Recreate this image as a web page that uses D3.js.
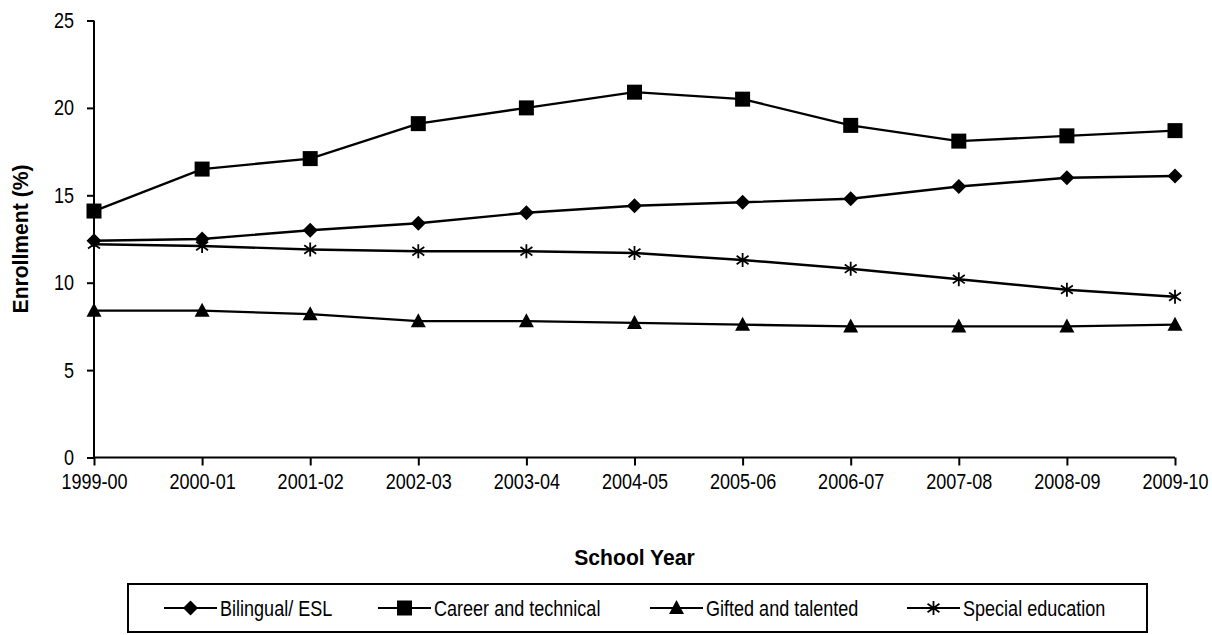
<!DOCTYPE html>
<html>
<head>
<meta charset="utf-8">
<script src="https://cdn.jsdelivr.net/npm/d3@7"></script>
<style>
  html, body { margin: 0; padding: 0; background: #fff; }
  svg { display: block; }
  text { font-family: "Liberation Sans", Arial, sans-serif; fill: #000; }
</style>
</head>
<body>
<svg id="chart" width="1212" height="635"></svg>
<script>
// School years on the horizontal axis
const years = ["1999-00", "2000-01", "2001-02", "2002-03", "2003-04", "2004-05",
               "2005-06", "2006-07", "2007-08", "2008-09", "2009-10"];

// Enrollment share (%) per programme
const bilingualESL      = [12.4, 12.5, 13.0, 13.4, 14.0, 14.4, 14.6, 14.8, 15.5, 16.0, 16.1];
const careerTechnical   = [14.1, 16.5, 17.1, 19.1, 20.0, 20.9, 20.5, 19.0, 18.1, 18.4, 18.7];
const giftedTalented    = [8.4, 8.4, 8.2, 7.8, 7.8, 7.7, 7.6, 7.5, 7.5, 7.5, 7.6];
const specialEducation  = [12.2, 12.1, 11.9, 11.8, 11.8, 11.7, 11.3, 10.8, 10.2, 9.6, 9.2];

const seriesNames = ["Bilingual/ ESL", "Career and technical", "Gifted and talented", "Special education"];
const yTicks = [0, 5, 10, 15, 20, 25];

const series = [
  { name: seriesNames[0], values: bilingualESL, marker: "diamond" },
  { name: seriesNames[1], values: careerTechnical, marker: "square" },
  { name: seriesNames[2], values: giftedTalented, marker: "triangle" },
  { name: seriesNames[3], values: specialEducation, marker: "star" }
];

// Condensed lettering: regular sans squeezed horizontally
const FS = 22;
const SQUEEZE = 0.82;
const TITLE_SQUEEZE = 0.96;

const svg = d3.select("#chart");

const x = d3.scalePoint().domain(years).range([94, 1175]);
const y = d3.scaleLinear().domain([0, 25]).range([457.5, 20.5]);

// Axes
const yAxis = svg.append("g")
  .attr("transform", `translate(${x.range()[0]},0)`)
  .call(d3.axisLeft(y).tickValues(yTicks).tickSize(7).tickPadding(13).tickFormat(d3.format("d")));

const xAxis = svg.append("g")
  .attr("transform", `translate(0,${y(0)})`)
  .call(d3.axisBottom(x).tickSize(8).tickPadding(8));

[yAxis, xAxis].forEach(g => {
  g.attr("font-family", "Liberation Sans, Arial, sans-serif").attr("font-size", FS);
  g.select(".domain").attr("stroke", "#000").attr("stroke-width", 2);
  g.selectAll(".tick line").attr("stroke", "#000").attr("stroke-width", 2);
  g.selectAll(".tick text").attr("font-size", FS).attr("fill", "#000");
});
// squeeze tick labels, keeping their anchor point in place
yAxis.selectAll(".tick text")
  .attr("x", -(7 + 13) / SQUEEZE)
  .attr("transform", `scale(${SQUEEZE},1)`);
xAxis.selectAll(".tick text")
  .attr("transform", `scale(${SQUEEZE},1)`);
// axis lines end exactly at the data range
yAxis.select(".domain").attr("d", `M0,${y(25)}V${y(0)}`);
xAxis.select(".domain").attr("d", `M${x.range()[0]},0H${x.range()[1]}`);

// Axis titles
svg.append("text")
  .attr("transform", `translate(28,${(y(0) + y(25)) / 2}) rotate(-90) scale(${TITLE_SQUEEZE},1)`)
  .attr("text-anchor", "middle")
  .attr("font-size", FS).attr("font-weight", "bold")
  .text("Enrollment (%)");

svg.append("text")
  .attr("transform", `translate(${(x.range()[0] + x.range()[1]) / 2},565) scale(${TITLE_SQUEEZE},1)`)
  .attr("text-anchor", "middle")
  .attr("font-size", FS).attr("font-weight", "bold")
  .text("School Year");

// Marker shapes
function drawMarker(g, type, cx, cy) {
  if (type === "diamond") {
    g.append("path").attr("d", `M${cx},${cy - 7.5}L${cx + 7.5},${cy}L${cx},${cy + 7.5}L${cx - 7.5},${cy}Z`)
      .attr("fill", "#000");
  } else if (type === "square") {
    g.append("rect").attr("x", cx - 7.5).attr("y", cy - 7.5).attr("width", 15).attr("height", 15)
      .attr("fill", "#000");
  } else if (type === "triangle") {
    g.append("path").attr("d", `M${cx},${cy - 8}L${cx + 7.5},${cy + 6}L${cx - 7.5},${cy + 6}Z`)
      .attr("fill", "#000");
  } else if (type === "star") {
    const r = 7;
    const d = r * 0.85;
    g.append("path")
      .attr("d", `M${cx},${cy - r}V${cy + r}M${cx - d},${cy - d * 0.7}L${cx + d},${cy + d * 0.7}M${cx - d},${cy + d * 0.7}L${cx + d},${cy - d * 0.7}`)
      .attr("stroke", "#000").attr("stroke-width", 1.8).attr("fill", "none");
  }
}

const line = d3.line().x((d, i) => x(years[i])).y(d => y(d));

series.forEach(s => {
  const g = svg.append("g");
  g.append("path").datum(s.values)
    .attr("d", line)
    .attr("fill", "none").attr("stroke", "#000").attr("stroke-width", 2.4);
  s.values.forEach((v, i) => drawMarker(g, s.marker, x(years[i]), y(v)));
});

// Legend
const legend = svg.append("g");
legend.append("rect")
  .attr("x", 128).attr("y", 584).attr("width", 1019).attr("height", 48)
  .attr("fill", "#fff").attr("stroke", "#000").attr("stroke-width", 2);

const legendX = [164, 378, 650, 907];
const legendY = 608;
series.forEach((s, i) => {
  const lx = legendX[i];
  legend.append("line").attr("x1", lx).attr("x2", lx + 53)
    .attr("y1", legendY).attr("y2", legendY)
    .attr("stroke", "#000").attr("stroke-width", 2);
  drawMarker(legend, s.marker, lx + 26.5, legendY);
  legend.append("text")
    .attr("transform", `translate(${lx + 56},${legendY + 8}) scale(${SQUEEZE},1)`)
    .attr("font-size", FS).text(s.name);
});
</script>
</body>
</html>
